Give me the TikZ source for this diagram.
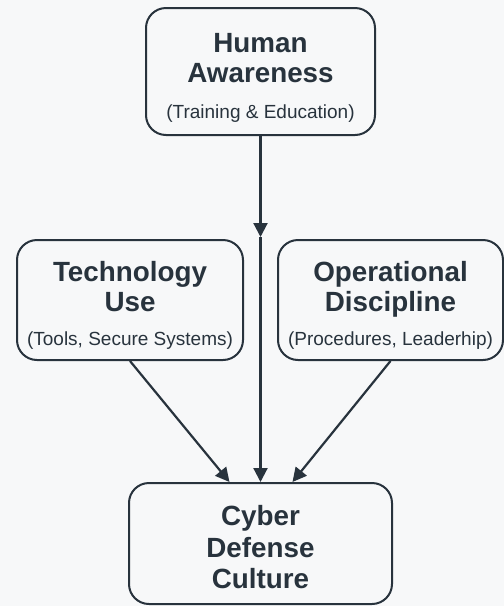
\documentclass[tikz,border=0pt]{standalone}
\usepackage{fontspec}
\setmainfont{Liberation Sans}
\usetikzlibrary{arrows.meta}

\definecolor{ink}{HTML}{28333D}
\definecolor{paper}{HTML}{F7F8F9}

\newcommand{\ttlfnt}{\bfseries\fontsize{27.8}{30}\selectfont}
\newcommand{\subfnt}{\mdseries\fontsize{19}{22}\selectfont}
% extra room above the first line
\newcommand{\boxlead}[1]{\rule{0pt}{#1}}

\begin{document}
\begin{tikzpicture}[
    x=1pt, y=1pt,
    block/.style={rectangle, draw=ink, line width=2pt, rounded corners=20pt, fill=paper, text=ink, align=center, inner sep=0pt, font=\ttlfnt},
    arrow/.style={-{Triangle[length=14pt, width=14pt]}, line width=2.2pt, draw=ink},
]
% canvas
\fill[paper] (0,0) rectangle (504,-606);
\useasboundingbox (0,0) rectangle (504,-606);

% Pillars
\node[block, minimum width=229pt, minimum height=127pt] (hum) at (260.5,-71.5) {\boxlead{31pt}Human\\Awareness\\[6pt]{\subfnt (Training \& Education)}};
\node[block, minimum width=226pt, minimum height=120pt] (tech) at (130,-300) {\boxlead{31pt}Technology\\Use\\[4pt]{\subfnt (Tools, Secure Systems)}};
\node[block, minimum width=225pt, minimum height=120pt] (ops) at (390.5,-300) {\boxlead{31pt}Operational\\Discipline\\[4pt]{\subfnt (Procedures, Leaderhip)}};

% Result
\node[block, minimum width=263pt, minimum height=121pt] (cul) at (260.5,-543.5) {\boxlead{27.5pt}Cyber\\[1.5pt]Defense\\[1.5pt]Culture};

% Connectors
\coordinate (mid) at (260.5,-237);
\draw[arrow] (hum) -- (mid);
\draw[arrow] (mid) -- (cul);
\draw[arrow] (tech.south) -- ([xshift=-31pt]cul.north);
\draw[arrow] (ops.south) -- ([xshift=32pt]cul.north);
\end{tikzpicture}
\end{document}
